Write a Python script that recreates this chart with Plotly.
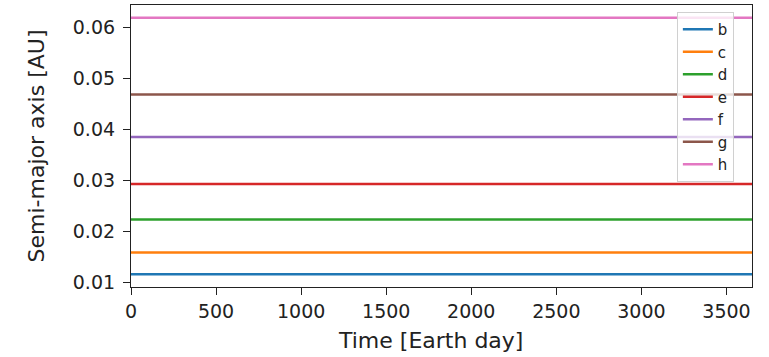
import plotly.graph_objects as go

# Time span of the integration [Earth day]
time_days = [0, 3650]

# Semi-major axes of the seven planets [AU]
planets = ["b", "c", "d", "e", "f", "g", "h"]
semi_major_axes = [0.01154, 0.01580, 0.02227, 0.02925, 0.03849, 0.04683, 0.06189]
colors = ["#1f77b4", "#ff7f0e", "#2ca02c", "#d62728", "#9467bd", "#8c564b", "#e377c2"]

x_ticks = [0, 500, 1000, 1500, 2000, 2500, 3000, 3500]
y_ticks = [0.01, 0.02, 0.03, 0.04, 0.05, 0.06]

fig = go.Figure()
for name, a, c in zip(planets, semi_major_axes, colors):
    fig.add_trace(go.Scatter(
        x=time_days, y=[a, a], mode="lines", name=name,
        line=dict(color=c, width=2.5),
    ))

font_family = "DejaVu Sans, sans-serif"
axis_common = dict(
    showgrid=False, zeroline=False, showline=True, linecolor="#222",
    linewidth=1.2, mirror=True, ticks="outside", ticklen=7, tickwidth=1.2,
    tickcolor="#222", tickfont=dict(size=19, color="#222", family=font_family),
)

fig.update_layout(
    width=769, height=357,
    margin=dict(l=131, r=17, t=5, b=70),
    paper_bgcolor="white", plot_bgcolor="white",
    font=dict(family=font_family, color="#222"),
    xaxis=dict(range=[0, 3650], tickvals=x_ticks, ticktext=[str(v) for v in x_ticks],
               **axis_common),
    yaxis=dict(range=[0.00902, 0.06441], tickvals=y_ticks,
               ticktext=[f"{v:.2f}" for v in y_ticks],
               ticklabelstandoff=4,
               title=dict(text="Semi-major axis [AU]", font=dict(size=22), standoff=22),
               **axis_common),
    legend=dict(
        x=0.879, y=0.975, xanchor="left", yanchor="top",
        bgcolor="rgba(255,255,255,0.8)", bordercolor="#d0d0d0", borderwidth=1,
        font=dict(size=15, color="#222", family=font_family),
        itemwidth=30,
    ),
)

# x-axis label, placed slightly left of the plot centre
fig.add_annotation(
    text="Time [Earth day]", xref="paper", yref="paper",
    x=0.4815, y=-0.19, xanchor="center", yanchor="middle",
    showarrow=False, font=dict(size=22, color="#222", family=font_family),
)

fig.write_html("out.html")
